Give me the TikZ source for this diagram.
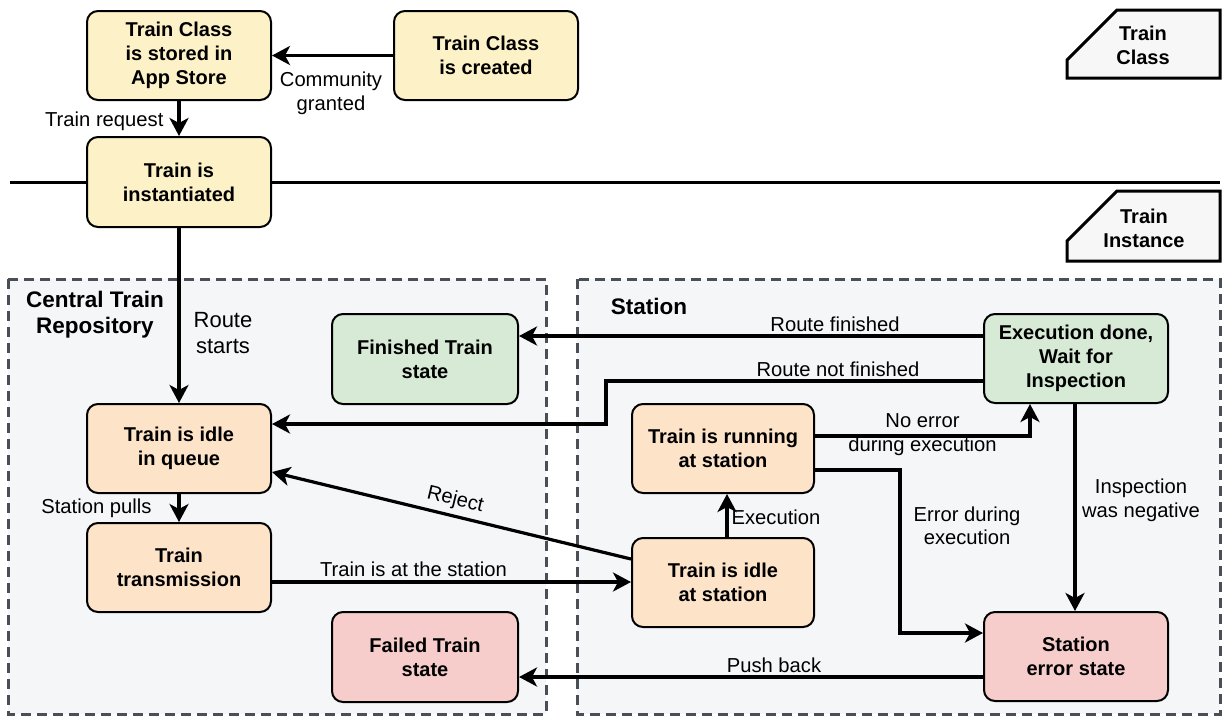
\documentclass[tikz,border=0pt]{standalone}
\usepackage{fontspec}
\setmainfont{Liberation Sans}
\usetikzlibrary{arrows.meta,calc}
\definecolor{clsfill}{RGB}{253,242,199}
\definecolor{runfill}{RGB}{253,228,201}
\definecolor{okfill}{RGB}{215,234,213}
\definecolor{errfill}{RGB}{247,205,204}
\definecolor{zonefill}{RGB}{245,246,248}
\definecolor{zoneline}{RGB}{74,79,85}
\begin{document}
\begin{tikzpicture}[x=1pt,y=-1pt,
  state/.style={draw=black, line width=2pt, rounded corners=11pt,
    minimum width=184pt, minimum height=89pt, align=center, inner sep=2pt,
    font=\fontsize{20}{24}\selectfont\bfseries},
  flow/.style={line width=3.2pt, -{Stealth[length=18pt,width=19pt,inset=5pt]}},
  rflow/.style={line width=3.2pt, {Stealth[length=18pt,width=19pt,inset=5pt]}-},
  lbl/.style={font=\fontsize{20.2}{23.5}\selectfont, align=center, inner sep=0pt},
  zone/.style={draw=zoneline, fill=zonefill, line width=3pt, dash pattern=on 10pt off 6pt},
  tag/.style={draw=black, fill=gray!6, line width=3pt, line join=miter},
  tagtext/.style={font=\fontsize{20}{24}\selectfont\bfseries, align=center, inner sep=0pt},
  title/.style={font=\fontsize{22.5}{26}\selectfont\bfseries, align=center, inner sep=0pt},
]
\useasboundingbox (0,0) rectangle (1223,716);

% swim lanes
\draw[zone] (8,279) rectangle (546,714);
\draw[zone] (577,279) rectangle (1220,714);
\node[title] (ctrtitle) at (95,315) {Central Train\\Repository};
\node[title] (sttitle) at (649,306) {Station};

% class / instance divider
\draw[line width=3pt] (10,182) -- (1220,182);

% layer tags
\draw[tag] (1067,60) -- (1117,10) -- (1220,10) -- (1220,78) -- (1067,78) -- cycle;
\node[tagtext] (tagclass) at (1143,45) {Train\\Class};
\draw[tag] (1067,241) -- (1117,191) -- (1220,191) -- (1220,261) -- (1067,261) -- cycle;
\node[tagtext] (taginst) at (1144,228) {Train\\Instance};

% states
\node[state, fill=clsfill] (stored)  at (179,55.5)  {Train Class\\is stored in\\App Store};
\node[state, fill=clsfill] (created) at (486,55.5)  {Train Class\\is created};
\node[state, fill=clsfill, minimum height=90pt] (inst) at (179,182) {Train is\\instantiated};
\node[state, fill=okfill, minimum width=186pt, minimum height=90pt] (fin) at (425,359) {Finished Train\\state};
\node[state, fill=runfill] (iq) at (179,448.5) {Train is idle\\in queue};
\node[state, fill=runfill] (tx) at (179,567.5) {Train\\transmission};
\node[state, fill=errfill, minimum width=186pt, minimum height=90pt] (failed) at (425,657) {Failed Train\\state};
\node[state, fill=okfill] (ex) at (1076,358.5) {Execution done,\\Wait for\\Inspection};
\node[state, fill=runfill, minimum width=182pt] (run) at (723,448.5) {Train is running\\at station};
\node[state, fill=runfill, minimum width=182pt] (is) at (723,582.5) {Train is idle\\at station};
\node[state, fill=errfill] (err) at (1076,656.5) {Station\\error state};

% transitions
\draw[flow] (created) -- node[lbl, xshift=-1.5pt, yshift=-38pt] {Community\\granted} (stored);
\draw[flow] (stored) -- node[lbl, anchor=east, xshift=-14pt, yshift=-2.5pt] {Train request} (inst);
\draw[flow] (inst) -- node[lbl, font=\fontsize{22}{26}\selectfont, xshift=44pt, yshift=-17.5pt] {Route\\starts} (iq);
\draw[flow] (iq) -- node[lbl, anchor=east, xshift=-26pt] {Station pulls} (tx);

\coordinate (exA) at ([yshift=22.5pt]ex.west);
\draw[flow] (exA) -- node[lbl, xshift=84pt, yshift=12pt] {Route finished} (exA -| fin.east);

\coordinate (exB) at ([yshift=-22.5pt]ex.west);
\draw[flow] (exB) -- node[lbl, xshift=43.5pt, yshift=12pt] {Route not finished} ++(-377,0) |- ([yshift=24.5pt]iq.east);

\coordinate (runA) at ([yshift=12.5pt]run.east);
\draw[flow] (runA) -| node[lbl, pos=.25, yshift=1.5pt] {No error\\during execution} ([xshift=-46pt]ex.south);

\coordinate (runB) at ([yshift=-21.5pt]run.east);
\draw[flow] (runB) -- ++(85,0) |- node[lbl, pos=.25, xshift=67pt, yshift=25.5pt] {Error during\\execution} ([yshift=23.5pt]err.west);

\draw[flow] ([xshift=-1pt]ex.south) -- node[lbl, xshift=66pt, yshift=7pt] {Inspection\\was negative} ([xshift=-1pt]err.north);
\draw[flow] ([xshift=4pt]is.north) -- node[lbl, xshift=49pt, yshift=-1.5pt] {Execution} ([xshift=4pt]run.south);
\draw[rflow] ([yshift=-23.5pt]iq.east) -- node[lbl, sloped, above=5pt] {Reject} ([yshift=23.5pt]is.west);

\coordinate (txA) at ([yshift=-14.5pt]tx.east);
\draw[flow] (txA) -- node[lbl, xshift=-38pt, yshift=13pt] {Train is at the station} (txA -| is.west);

\coordinate (errA) at ([yshift=-20.5pt]err.west);
\draw[flow] (errA) -- node[lbl, xshift=23pt, yshift=12pt] {Push back} (errA -| failed.east);
\end{tikzpicture}
\end{document}
